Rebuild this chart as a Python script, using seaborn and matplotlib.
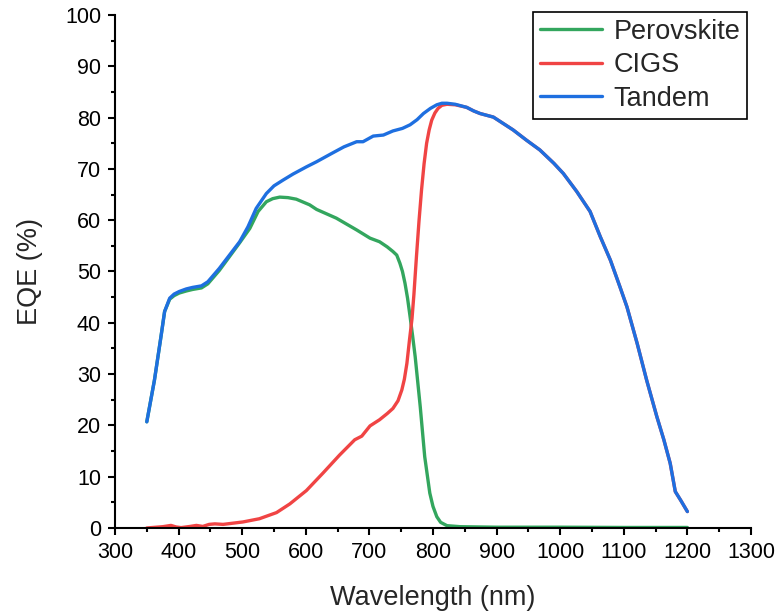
import numpy as np
import pandas as pd
import matplotlib
matplotlib.use("Agg")
import matplotlib.pyplot as plt
from matplotlib.ticker import MultipleLocator
import seaborn as sns

# ---- data ----
tandem_wl = [350, 362, 373, 378, 386, 393, 401, 412, 422, 436, 446, 464, 480, 496, 509, 522, 538,
             550, 564, 580, 601, 617, 642, 660, 680, 690, 706, 722, 737, 752, 764, 775, 785, 796,
             806, 814, 822, 835, 853, 864, 874, 895, 926, 947, 968, 990, 1005, 1026, 1047, 1063,
             1079, 1094, 1105, 1121, 1136, 1152, 1163, 1173, 1181, 1190, 1200]
tandem_eqe = [20.7, 28.8, 37.9, 42.2, 44.8, 45.6, 46.1, 46.6, 46.9, 47.2, 48.0, 50.6, 53.2, 55.8, 58.7, 62.3, 65.2,
              66.7, 67.8, 69.0, 70.4, 71.4, 73.1, 74.3, 75.3, 75.3, 76.4, 76.6, 77.4, 77.9, 78.6, 79.6, 80.8, 81.8,
              82.5, 82.8, 82.8, 82.6, 82.0, 81.3, 80.8, 80.1, 77.6, 75.6, 73.7, 71.1, 69.1, 65.6, 61.7, 56.8,
              52.2, 47.0, 43.1, 36.0, 28.8, 21.7, 17.2, 12.6, 7.1, 5.3, 3.2]

perov_wl = [350, 362, 373, 378, 386, 393, 401, 412, 422, 436, 446, 464, 480, 496, 512, 525, 538,
            548, 559, 572, 585, 606, 617, 648, 680, 701, 716, 728, 737, 743, 748, 752, 756, 760,
            764, 768, 772, 776, 780, 787, 795, 800, 806, 812, 822, 843, 900, 1000, 1100, 1200]
perov_eqe = [20.7, 28.8, 37.9, 42.2, 44.6, 45.3, 45.8, 46.2, 46.5, 46.8, 47.6, 50.2, 52.9, 55.6, 58.4, 61.7, 63.6,
             64.2, 64.5, 64.4, 64.1, 63.0, 62.1, 60.4, 58.1, 56.5, 55.8, 54.8, 53.9, 53.2, 51.6, 50.0, 47.7, 44.8,
             41.2, 37.4, 33.4, 28.5, 23.6, 13.9, 6.8, 4.2, 2.2, 1.1, 0.45, 0.25, 0.15, 0.15, 0.1, 0.1]

cigs_wl = [350, 375, 388, 396, 404, 418, 428, 438, 448, 457, 470, 501, 527, 554, 575, 601, 627,
           653, 677, 688, 701, 716, 728, 737, 745, 751, 755, 759, 763, 767, 770, 774, 778, 782,
           786, 790, 794, 798, 803, 808, 814, 822, 835, 853, 864, 874, 895, 926, 947, 968, 990,
           1005, 1026, 1047, 1063, 1079, 1094, 1105, 1121, 1136, 1152, 1163, 1173, 1181, 1190, 1200]
cigs_eqe = [0.0, 0.25, 0.5, 0.2, 0.07, 0.3, 0.5, 0.3, 0.7, 0.8, 0.7, 1.17, 1.8, 3.0, 4.7, 7.3, 10.7,
            14.2, 17.2, 17.9, 19.9, 21.1, 22.3, 23.3, 24.8, 26.9, 29.0, 32.1, 36.6, 40.8, 45.5, 52.9, 59.8, 65.9,
            71.0, 75.0, 77.6, 79.5, 80.9, 81.8, 82.4, 82.6, 82.5, 82.0, 81.3, 80.8, 80.1, 77.6, 75.6, 73.7, 71.1,
            69.1, 65.6, 61.7, 56.8, 52.2, 47.0, 43.1, 36.0, 28.8, 21.7, 17.2, 12.6, 7.1, 5.3, 3.2]

series_names = ["Perovskite", "CIGS", "Tandem"]
colors = ["#33A65E", "#F04444", "#1E6FE0"]

df = pd.concat([
    pd.DataFrame({"Wavelength": perov_wl, "EQE": perov_eqe, "Device": "Perovskite"}),
    pd.DataFrame({"Wavelength": cigs_wl, "EQE": cigs_eqe, "Device": "CIGS"}),
    pd.DataFrame({"Wavelength": tandem_wl, "EQE": tandem_eqe, "Device": "Tandem"}),
], ignore_index=True)

sns.set_style("ticks")
plt.rcParams["font.family"] = ["Liberation Sans", "DejaVu Sans"]

fig = plt.figure(figsize=(7.77, 6.13), dpi=100)
ax = fig.add_axes([0.148, 0.1387, 0.8185, 0.8368])

sns.lineplot(data=df, x="Wavelength", y="EQE", hue="Device", hue_order=series_names,
             palette=colors, linewidth=2.4, sort=False, estimator=None, ax=ax)
for ln in ax.get_lines():
    ln.set_solid_joinstyle("round")
    ln.set_solid_capstyle("round")

ax.set_xlim(300, 1300)
ax.set_ylim(0, 100)
ax.xaxis.set_major_locator(MultipleLocator(100))
ax.xaxis.set_minor_locator(MultipleLocator(50))
ax.yaxis.set_major_locator(MultipleLocator(10))
ax.yaxis.set_minor_locator(MultipleLocator(5))
ax.tick_params(which="major", direction="out", length=5, width=1.5, labelsize=15.5, colors="black", pad=5)
ax.tick_params(which="minor", direction="out", length=3, width=1.5, colors="black")
for s in ["top", "right"]:
    ax.spines[s].set_visible(False)
for s in ["left", "bottom"]:
    ax.spines[s].set_linewidth(1.5)
    ax.spines[s].set_color("black")

ax.set_xlabel("Wavelength (nm)", fontsize=19.5, labelpad=16)
ax.set_ylabel("EQE (%)", fontsize=19.5, labelpad=16)

leg = ax.legend(loc="upper right", bbox_to_anchor=(0.9937, 1.006), fontsize=19.5, frameon=True,
                fancybox=False, edgecolor="black", handlelength=2.3, handletextpad=0.4,
                borderpad=0.25, labelspacing=0.28, borderaxespad=0, framealpha=1)
leg.get_frame().set_linewidth(1.2)
for line in leg.get_lines():
    line.set_linewidth(2.4)

fig.savefig("out.png", dpi=100)
